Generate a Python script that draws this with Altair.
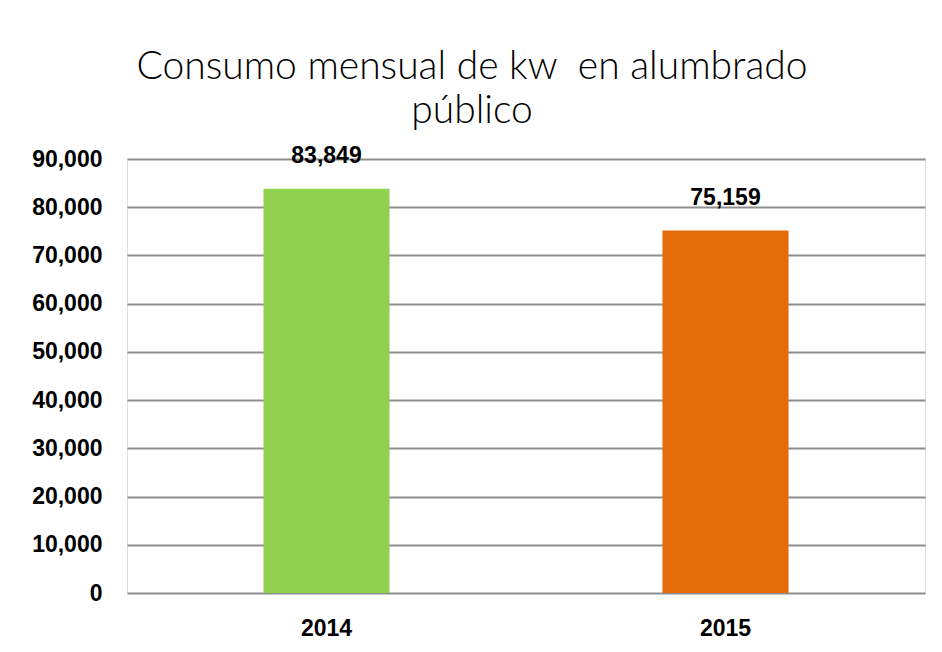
import altair as alt
import pandas as pd

years = ["2014", "2015"]
values = [83849, 75159]
colors = ["#92D050", "#E46C0A"]
y_ticks = [0, 10000, 20000, 30000, 40000, 50000, 60000, 70000, 80000, 90000]
title_lines = ["Consumo mensual de kw\u00a0 en alumbrado", "público"]

df = pd.DataFrame({"year": years, "value": values, "color": colors})

FONT = "Liberation Sans"

x = alt.X("year:N", title=None, sort=years,
          scale=alt.Scale(paddingInner=0.684, paddingOuter=0.342),
          axis=alt.Axis(labelAngle=0, labelFont=FONT, labelFontWeight="bold",
                        labelFontSize=23, labelColor="#000000", labelPadding=24,
                        ticks=False, domain=False, grid=False))
y = alt.Y("value:Q", title=None,
          scale=alt.Scale(domain=[0, 90000], nice=False),
          axis=alt.Axis(values=y_ticks, labelExpr="format(datum.value, ',')", labelFont=FONT,
                        labelFontWeight="bold", labelFontSize=23, labelColor="#000000",
                        labelPadding=25, ticks=False, domain=False,
                        grid=True, gridColor="#8E8E8E", gridWidth=2))

base = alt.Chart(df)
bars = base.mark_bar().encode(x=x, y=y, color=alt.Color("color:N", scale=None))
labels = base.mark_text(dy=-26, baseline="alphabetic", font=FONT,
                        fontWeight="bold", fontSize=23, color="#000000").encode(
    x=x, y=y, text=alt.Text("value:Q", format=","))

chart = alt.layer(bars, labels).properties(
    width=798, height=434,
    padding={"left": 119, "top": 151, "right": 9, "bottom": 50},
    autosize=alt.AutoSizeParams(type="none"),
    title=alt.TitleParams(title_lines, anchor="middle", frame="group", dx=-54,
                          font="Lato", fontWeight=300, fontSize=39, color="#000000",
                          lineHeight=44, offset=14),
).configure_view(stroke=None).configure(background="#FFFFFF")

chart.save("out.html", embed_options={"renderer": "svg", "actions": False})
